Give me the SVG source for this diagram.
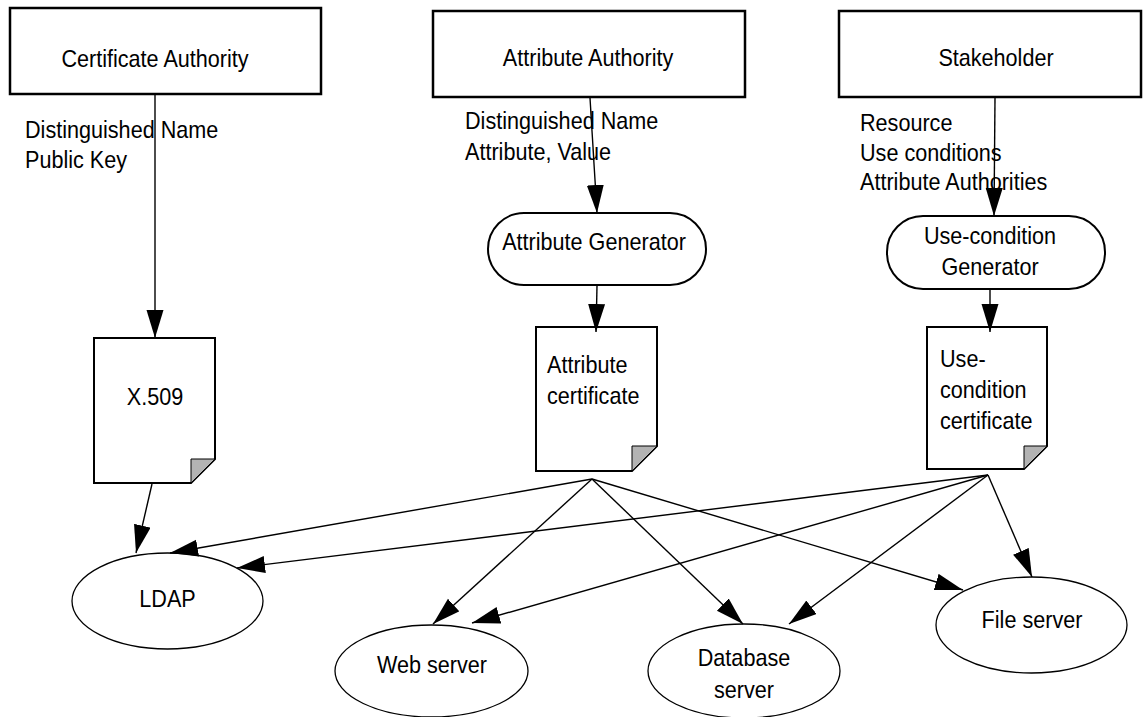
<svg xmlns="http://www.w3.org/2000/svg" width="1143" height="717" viewBox="0 0 1143 717">
<style>
text{font-family:"Liberation Sans",Arial,sans-serif;font-size:24px;fill:#000;transform-box:fill-box;transform-origin:left center;transform:scaleX(0.9)}
.m{text-anchor:middle;transform-origin:center center}
.box{fill:#fff;stroke:#000;stroke-width:2.5}
.gen{fill:#fff;stroke:#000;stroke-width:2}
.doc{fill:#fff;stroke:#000;stroke-width:2}
.fold{fill:#b3b3b3;stroke:#000;stroke-width:1}
.ell{fill:#fff;stroke:#000;stroke-width:1.3}
.c line{stroke:#000;stroke-width:1.4;fill:none;marker-end:url(#ah)}
</style>
<defs>
<marker id="ah" markerUnits="userSpaceOnUse" markerWidth="29" markerHeight="18" refX="28" refY="8.5" orient="auto">
<path d="M0,0 L28,8.5 L0,17 Z" fill="#000"/>
</marker>
</defs>
<rect width="1143" height="717" fill="#fff"/>
<g id="ca"><rect class="box" x="10" y="8" width="311" height="86"/><text class="m" x="155" y="67">Certificate Authority</text></g>
<g id="aa"><rect class="box" x="433" y="11" width="312" height="86"/><text class="m" x="588" y="66">Attribute Authority</text></g>
<g id="sh"><rect class="box" x="839" y="11" width="302" height="86"/><text class="m" x="996" y="66">Stakeholder</text></g>
<g id="ca-label"><text x="25" y="138">Distinguished Name</text><text x="25" y="168">Public Key</text></g>
<g id="aa-label"><text x="465" y="129">Distinguished Name</text><text x="465" y="160">Attribute, Value</text></g>
<g id="sh-label"><text x="860" y="131">Resource</text><text x="860" y="161">Use conditions</text><text x="860" y="190">Attribute Authorities</text></g>
<g id="attr-gen"><rect class="gen" x="488" y="213" width="218" height="72" rx="36"/><text class="m" x="594" y="250">Attribute Generator</text></g>
<g id="uc-gen"><rect class="gen" x="887" y="216" width="218" height="73" rx="36"/><text class="m" x="990" y="244">Use-condition</text><text class="m" x="990" y="275">Generator</text></g>
<g id="x509"><path class="doc" d="M94,338 H215 V459 L191,483 H94 Z"/><path class="fold" d="M191,459 H215 L191,483 Z"/><text class="m" x="155" y="405">X.509</text></g>
<g id="attr-cert"><path class="doc" d="M536,327 H657 V446 L632,471 H536 Z"/><path class="fold" d="M632,446 H657 L632,471 Z"/><text x="547" y="373">Attribute</text><text x="547" y="404">certificate</text></g>
<g id="uc-cert"><path class="doc" d="M927,327 H1047 V446 L1024,469 H927 Z"/><path class="fold" d="M1024,446 H1047 L1024,469 Z"/><text x="940" y="367">Use-</text><text x="940" y="398">condition</text><text x="940" y="429">certificate</text></g>
<g id="ldap"><ellipse class="ell" cx="167.5" cy="601" rx="95.5" ry="48"/><text class="m" x="167.5" y="607">LDAP</text></g>
<g id="web"><ellipse class="ell" cx="431.5" cy="671" rx="96.5" ry="46"/><text class="m" x="432" y="673">Web server</text></g>
<g id="db"><ellipse class="ell" cx="744" cy="671" rx="96" ry="47"/><text class="m" x="744" y="666">Database</text><text class="m" x="744" y="698">server</text></g>
<g id="file"><ellipse class="ell" cx="1031.5" cy="625" rx="95.5" ry="48"/><text class="m" x="1032" y="628">File server</text></g>
<g class="c" id="connectors">
<line x1="155" y1="95" x2="155" y2="338"/>
<line x1="590" y1="98" x2="597" y2="213"/>
<line x1="995" y1="98" x2="994" y2="216"/>
<line x1="597" y1="286" x2="596" y2="332"/>
<line x1="990" y1="290" x2="990" y2="332"/>
<line x1="152" y1="484" x2="136" y2="553"/>
<line x1="592" y1="479" x2="170" y2="553"/>
<line x1="592" y1="479" x2="433" y2="624"/>
<line x1="592" y1="479" x2="743" y2="624"/>
<line x1="592" y1="479" x2="963" y2="590"/>
<line x1="988" y1="475" x2="237" y2="568"/>
<line x1="988" y1="475" x2="472" y2="623"/>
<line x1="988" y1="475" x2="789" y2="624"/>
<line x1="988" y1="475" x2="1032" y2="577"/>
</g>
</svg>
